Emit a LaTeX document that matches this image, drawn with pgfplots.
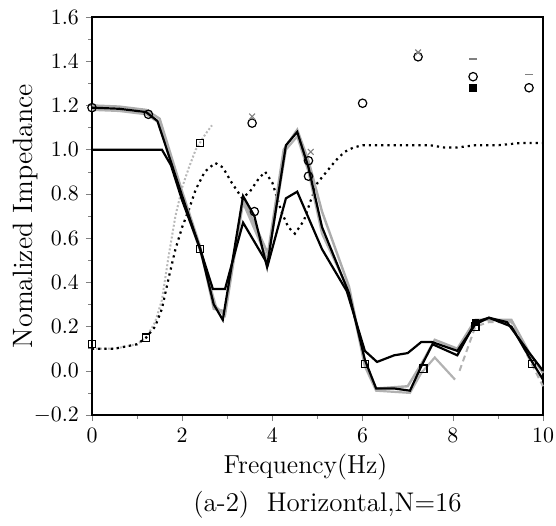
\documentclass[border=0pt]{standalone}
\usepackage{pgfplots}
\pgfplotsset{compat=1.18}
\begin{document}
\begin{tikzpicture}
\begin{axis}[
  scale only axis, width=225.5pt, height=199pt,
  xmin=0, xmax=10, ymin=-0.2, ymax=1.6,
  xtick={0,2,...,10}, minor xtick={1,3,5,7,9},
  ytick={-0.2,0,0.2,0.4,0.6,0.8,1.0,1.2,1.4,1.6},
  minor ytick={-0.1,0.1,0.3,0.5,0.7,0.9,1.1,1.3,1.5},
  xtick pos=left, ytick pos=left, tick align=outside,
  major tick length=3pt, minor tick length=1.8pt,
  axis line style={line width=0.9pt},
  yticklabel style={/pgf/number format/fixed,/pgf/number format/fixed zerofill,/pgf/number format/precision=1, font=\fontsize{10.5}{12}\selectfont},
  xticklabel style={font=\fontsize{10.5}{12}\selectfont},
  ylabel={Nomalized Impedance},
  ylabel style={font=\fontsize{14}{16}\selectfont, at={(axis description cs:-0.148,0.5)}, anchor=center},
  clip=false,
]
% grey dotted
\addplot[gray!55, densely dotted, line width=1pt] coordinates {
(0,0.1) (0.5,0.1) (1.0,0.12) (1.2,0.15) (1.4,0.22) (1.55,0.32) (1.7,0.52) (1.85,0.7) (2.0,0.83) (2.15,0.92) (2.3,1.0) (2.45,1.05) (2.55,1.08) (2.66,1.11)};
% black dotted
\addplot[black, dotted, line width=1.1pt] coordinates {
(0,0.1) (0.5,0.1) (1.0,0.12) (1.2,0.15) (1.4,0.2) (1.55,0.28) (1.7,0.42) (1.85,0.55) (2.0,0.65) (2.15,0.73) (2.3,0.82) (2.5,0.9) (2.73,0.94) (2.9,0.92) (3.1,0.85) (3.33,0.78) (3.5,0.81) (3.7,0.87) (3.84,0.9) (4.0,0.85) (4.2,0.72) (4.35,0.65) (4.5,0.62) (4.7,0.68) (4.85,0.77) (5.0,0.85) (5.2,0.9) (5.4,0.95) (5.6,0.99) (5.8,1.01) (6.0,1.02) (6.5,1.02) (7.0,1.02) (7.5,1.02) (7.8,1.01) (8.1,1.01) (8.5,1.02) (9.0,1.02) (9.5,1.03) (10,1.03)};
% grey solid 2
\addplot[gray!60, line width=1.1pt] coordinates {
(0,1.18) (0.6,1.175) (1.2,1.16) (1.5,1.12) (2.0,0.78) (2.4,0.54) (2.75,0.29) (2.95,0.25) (3.35,0.76) (3.9,0.5) (4.3,1.0) (4.55,1.06) (4.8,0.9) (5.1,0.62) (5.7,0.36) (6.05,0.02) (6.3,-0.09) (7.05,-0.1) (7.3,-0.01) (7.6,0.06) (8.05,-0.04)};
\addplot[gray!60, line width=1pt, densely dashed] coordinates {
(8.15,0.0) (8.5,0.2) (8.8,0.22) (9.3,0.22) (9.7,0.05) (10,-0.07)};
% grey solid
\addplot[gray!65, line width=1.2pt] coordinates {
(0,1.2) (0.6,1.195) (1.2,1.18) (1.5,1.14) (2.0,0.81) (2.4,0.56) (2.7,0.28) (2.95,0.27) (3.35,0.78) (3.9,0.53) (4.25,1.0) (4.35,1.03) (4.55,1.09) (4.8,0.95) (5.1,0.72) (5.7,0.38) (6.05,0.03) (6.3,-0.08) (7.0,-0.07) (7.3,0.03) (7.6,0.14) (8.1,0.1) (8.5,0.23) (8.8,0.23) (9.3,0.23) (9.7,0.08) (10,-0.01)};
% black upper
\addplot[black, line width=1.1pt] coordinates {
(0,1.19) (0.6,1.185) (1.2,1.17) (1.45,1.13) (2.0,0.79) (2.4,0.55) (2.7,0.30) (2.9,0.23) (3.35,0.79) (3.6,0.70) (3.88,0.47) (4.3,1.02) (4.55,1.08) (4.8,0.92) (5.1,0.65) (5.7,0.35) (6.05,0.05) (6.3,-0.08) (6.7,-0.08) (7.05,-0.09) (7.3,0.02) (7.55,0.12) (8.1,0.07) (8.5,0.22) (8.8,0.24) (9.3,0.2) (9.7,0.06) (10,-0.04)};
% black lower
\addplot[black, line width=1.1pt] coordinates {
(0,1.0) (1.55,1.0) (1.75,0.93) (2.0,0.77) (2.4,0.55) (2.68,0.37) (2.95,0.37) (3.35,0.67) (3.9,0.48) (4.3,0.78) (4.55,0.81) (5.1,0.55) (5.65,0.36) (6.05,0.09) (6.32,0.04) (6.7,0.07) (7.0,0.08) (7.3,0.13) (7.54,0.13) (8.1,0.09) (8.5,0.21) (8.8,0.24) (9.2,0.22) (9.7,0.08) (10,0.0)};
% markers
\addplot[only marks, mark=square, mark size=1.8pt, black, line width=0.6pt] coordinates {
(0,0.12) (1.2,0.15) (2.4,1.03) (2.4,0.55) (6.05,0.03) (7.35,0.01) (9.75,0.03) (8.5,0.2)};
\addplot[only marks, mark=o, mark size=2.1pt, black, line width=0.6pt] coordinates {
(0,1.19) (1.25,1.16) (3.6,0.72) (4.8,0.95) (4.8,0.88) (3.55,1.12) (6.0,1.21) (7.23,1.42) (8.45,1.33) (9.69,1.28)};
\addplot[only marks, mark=x, mark size=2pt, gray, line width=0.6pt] coordinates {
(3.55,1.15) (7.23,1.44) (4.85,0.99)};
\addplot[only marks, mark=square*, mark size=1.6pt, black] coordinates {
(8.45,1.28) (8.5,0.22)};
\addplot[only marks, mark=-, mark size=2pt, gray, line width=0.8pt] coordinates {
(8.45,1.41) (9.69,1.34)};
\end{axis}
\node[font=\fontsize{13}{15}\selectfont] at ([xshift=-6pt,yshift=-26pt]current axis.south) {Frequency(Hz)};
\node[font=\fontsize{13.5}{16}\selectfont] at ([xshift=5pt,yshift=-45pt]current axis.south) {(a-2)\ \ Horizontal,N=16};
\pgfresetboundingbox
\path[use as bounding box] ([xshift=-46pt,yshift=-55pt]current axis.south west) rectangle ([xshift=6.5pt,yshift=8.5pt]current axis.north east);
\end{tikzpicture}
\end{document}
